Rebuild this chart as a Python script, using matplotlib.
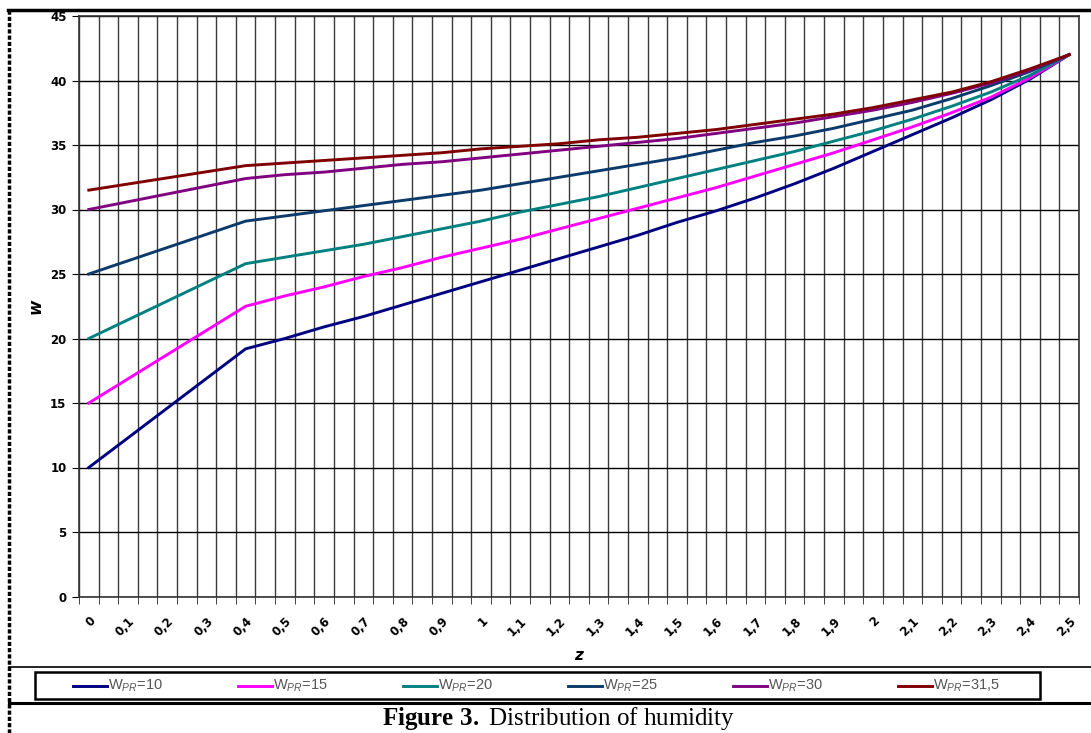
import matplotlib
matplotlib.use("Agg")
import matplotlib.pyplot as plt
from matplotlib.lines import Line2D
from matplotlib.patches import Rectangle
import matplotlib.transforms as mtransforms
import numpy as np

plt.rcParams['font.family'] = ['DejaVu Sans']
plt.rcParams['mathtext.fontset'] = 'custom'
plt.rcParams['mathtext.rm'] = 'Liberation Sans'
plt.rcParams['mathtext.it'] = 'Liberation Sans:italic'
plt.rcParams['mathtext.bf'] = 'Liberation Serif:bold'

# depth z and humidity w
z = [0, 0.4, 0.5, 0.6, 0.7, 0.8, 0.9, 1.0, 1.1, 1.2, 1.3, 1.4, 1.5,
     1.6, 1.7, 1.8, 1.9, 2.0, 2.1, 2.2, 2.3, 2.4, 2.5]
w10 = [10, 19.2, 20.0, 20.9, 21.7, 22.6, 23.5, 24.4, 25.3, 26.2, 27.1, 28.0, 29.0,
       29.9, 30.9, 32.0, 33.2, 34.5, 35.8, 37.1, 38.5, 40.1, 42]
w15 = [15, 22.5, 23.3, 24.0, 24.8, 25.5, 26.3, 27.0, 27.7, 28.5, 29.3, 30.1, 30.9,
       31.7, 32.6, 33.5, 34.4, 35.4, 36.4, 37.5, 38.7, 40.2, 42]
w20 = [20, 25.8, 26.3, 26.8, 27.3, 27.9, 28.5, 29.1, 29.8, 30.4, 31.0, 31.7, 32.4,
       33.1, 33.8, 34.5, 35.3, 36.1, 37.0, 38.0, 39.1, 40.4, 42]
w25 = [25, 29.1, 29.5, 29.9, 30.3, 30.7, 31.1, 31.5, 32.0, 32.5, 33.0, 33.5, 34.0,
       34.6, 35.2, 35.7, 36.3, 37.0, 37.7, 38.6, 39.6, 40.7, 42]
w30 = [30, 32.4, 32.7, 32.9, 33.2, 33.5, 33.7, 34.0, 34.3, 34.6, 34.9, 35.2, 35.5,
       35.9, 36.3, 36.7, 37.2, 37.7, 38.3, 39.0, 39.8, 40.8, 42]
w315 = [31.5, 33.4, 33.6, 33.8, 34.0, 34.2, 34.4, 34.7, 34.9, 35.1, 35.4, 35.6, 35.9,
        36.2, 36.6, 37.0, 37.4, 37.9, 38.5, 39.1, 39.9, 40.9, 42]

series = [w10, w15, w20, w25, w30, w315]
names = ['10', '15', '20', '25', '30', '31,5']
colors = ['#000080', '#ff00ff', '#008080', '#0b3a6b', '#800080', '#800000']

tick_vals = [0, 0.1, 0.2, 0.3, 0.4, 0.5, 0.6, 0.7, 0.8, 0.9, 1, 1.1, 1.2,
             1.3, 1.4, 1.5, 1.6, 1.7, 1.8, 1.9, 2, 2.1, 2.2, 2.3, 2.4, 2.5]
tick_labels = [f'{v:g}'.replace('.', ',') for v in tick_vals]

W, H = 1091, 733
fig = plt.figure(figsize=(W / 100, H / 100), dpi=100)
ax = fig.add_axes([79 / W, 1 - 596.5 / H, 1000 / W, 580.5 / H])

for vals, c in zip(series, colors):
    ax.plot(z, vals, color=c, lw=2.1, zorder=3)

# category-style axis: 51 slots of 0.05, gridlines between slots
step = 0.05
ax.set_xlim(-step / 2, 2.5 + step / 2)
ax.set_ylim(0, 45)
ax.set_xticks(tick_vals)
ax.set_xticklabels(tick_labels, rotation=45, ha='right', rotation_mode='anchor',
                   fontsize=8.5, fontweight='bold')
shift = mtransforms.ScaledTranslation(-4 / 100, 0, fig.dpi_scale_trans)
for t in ax.get_xticklabels():
    t.set_transform(t.get_transform() + shift)
ax.set_xticks(np.arange(-step / 2, 2.5 + step, step), minor=True)
ax.tick_params(axis='x', which='major', length=0, pad=13)
ax.tick_params(axis='x', which='minor', length=5, direction='out', color='#222')
ax.set_yticks(range(0, 46, 5))
ax.tick_params(axis='y', length=5, direction='out', labelsize=8.5, pad=4)
for t in ax.get_yticklabels():
    t.set_fontweight('bold')
ax.grid(axis='x', which='minor', color='#3a3a3a', lw=1.0)
ax.grid(axis='y', which='major', color='black', lw=1.0)
ax.grid(axis='x', which='major', visible=False)
ax.set_axisbelow(True)
for s in ax.spines.values():
    s.set_color('#333')
    s.set_linewidth(1.2)

ax.set_xlabel('z', fontsize=11, fontweight='bold', fontstyle='italic', labelpad=7)
ax.set_ylabel('w', fontsize=12, fontweight='bold', fontstyle='italic', labelpad=4)

# legend box drawn by hand so entries keep the original even spacing
fig.add_artist(Rectangle((35 / W, 1 - 699 / H), 1005 / W, 27 / H, transform=fig.transFigure,
                         fill=False, edgecolor='black', lw=1.8))
leg_y = 1 - 685.5 / H
for i, (n, c) in enumerate(zip(names, colors)):
    x0 = 73 + 165 * i
    fig.add_artist(Line2D([x0 / W, (x0 + 34) / W], [leg_y, leg_y], color=c, lw=2.1))
    fig.text((x0 + 35) / W, leg_y, r'W$_{\mathit{PR}}$=' + n, ha='left', va='center',
             fontsize=10.5, color='#555555', family='Liberation Sans')

# page frame around the figure
fig.add_artist(Line2D([8 / W, 1], [1 - 10 / H] * 2, color='black', lw=2.5))
fig.add_artist(Line2D([9 / W] * 2, [0, 1 - 10 / H], color='black', lw=2.5,
                      ls=(0, (1.2, 0.6))))
fig.add_artist(Line2D([9 / W, 1], [1 - 667 / H] * 2, color='black', lw=1.2))
fig.add_artist(Line2D([9 / W, 1], [1 - 703 / H] * 2, color='black', lw=2.2))

fig.text(559 / W, 1 - 719 / H, r'$\mathbf{Figure\ 3.}$ Distribution of humidity',
         ha='center', va='center', fontsize=18, family='Liberation Serif')

fig.savefig('out.png', dpi=100)
